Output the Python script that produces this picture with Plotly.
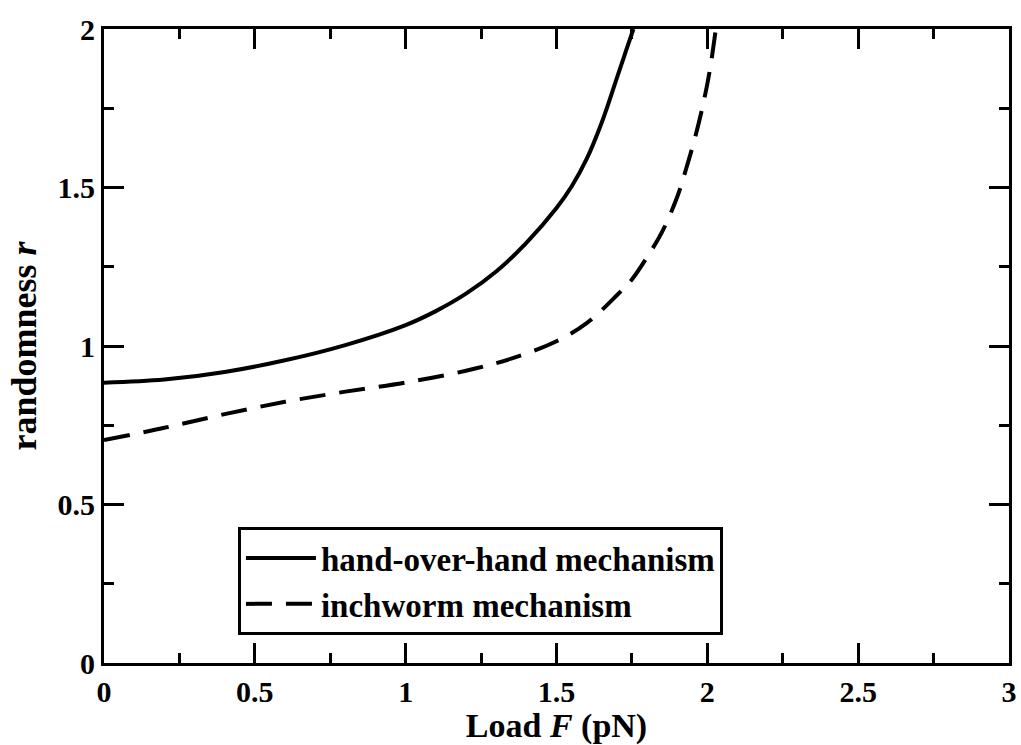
import plotly.graph_objects as go

# Data
load_hoh = [0.0, 0.2, 0.4, 0.6, 0.8, 1.0, 1.1, 1.2, 1.3, 1.4, 1.5, 1.55, 1.6, 1.65, 1.7, 1.73, 1.755]
r_hoh = [0.884, 0.894, 0.918, 0.955, 1.003, 1.066, 1.11, 1.165, 1.235, 1.325, 1.435, 1.503, 1.59, 1.705, 1.845, 1.93, 2.0]

load_inch = [0.0, 0.2, 0.4, 0.6, 0.8, 1.0, 1.2, 1.35, 1.5, 1.6, 1.7, 1.75, 1.8, 1.85, 1.9, 1.93, 1.96, 1.99, 2.01, 2.028]
r_inch = [0.703, 0.742, 0.785, 0.824, 0.856, 0.885, 0.922, 0.96, 1.015, 1.072, 1.16, 1.21, 1.28, 1.36, 1.47, 1.56, 1.66, 1.78, 1.88, 2.0]

x_ticks = [0, 0.5, 1, 1.5, 2, 2.5, 3]
x_ticklabels = ["0", "0.5", "1", "1.5", "2", "2.5", "3"]
y_ticks = [0, 0.5, 1, 1.5, 2]
y_ticklabels = ["0", "0.5", "1", "1.5", "2"]

FONT = "Liberation Serif, Times New Roman, serif"

fig = go.Figure()
fig.add_trace(go.Scatter(x=load_hoh, y=r_hoh, mode="lines", name="hand-over-hand mechanism",
                         line=dict(color="black", width=4, shape="spline", smoothing=1.0)))
fig.add_trace(go.Scatter(x=load_inch, y=r_inch, mode="lines", name="inchworm mechanism",
                         line=dict(color="black", width=4, dash="26px,14px", shape="spline", smoothing=1.0)))

axis_common = dict(
    showgrid=False, zeroline=False, showline=True, linecolor="black", linewidth=3,
    mirror="ticks", ticks="inside", ticklen=20, tickwidth=3, tickcolor="black",
    automargin=False,
    tickfont=dict(family=FONT, size=30, color="black", weight="bold"),
)

fig.update_xaxes(range=[0, 3], tickvals=x_ticks, ticktext=x_ticklabels,
                 minor=dict(dtick=0.25, ticks="inside", ticklen=10, tickwidth=3, tickcolor="black"),
                 title=dict(text="<b>Load <i>F</i> (pN)</b>", font=dict(family=FONT, size=34, color="black"), standoff=4),
                 **axis_common)
fig.update_yaxes(range=[0, 2], tickvals=y_ticks, ticktext=y_ticklabels,
                 minor=dict(dtick=0.25, ticks="inside", ticklen=10, tickwidth=3, tickcolor="black"),
                 title=dict(text="<b>randomness <i>r</i></b>", font=dict(family=FONT, size=36, color="black"), standoff=10),
                 **axis_common)

fig.update_layout(
    width=1021, height=745,
    margin=dict(l=104, r=12, t=29, b=82),
    paper_bgcolor="white", plot_bgcolor="white",
    showlegend=True,
    legend=dict(x=0.148, y=0.2145, xanchor="left", yanchor="top",
                bgcolor="white", bordercolor="black", borderwidth=3,
                font=dict(family=FONT, size=33, color="black", weight="bold"),
                itemwidth=70, tracegroupgap=0),
)

# remove the default 8px page margin so the figure fills the window exactly
fig.write_html("out.html", config={"displayModeBar": False},
               post_script="document.body.style.margin='0';")
